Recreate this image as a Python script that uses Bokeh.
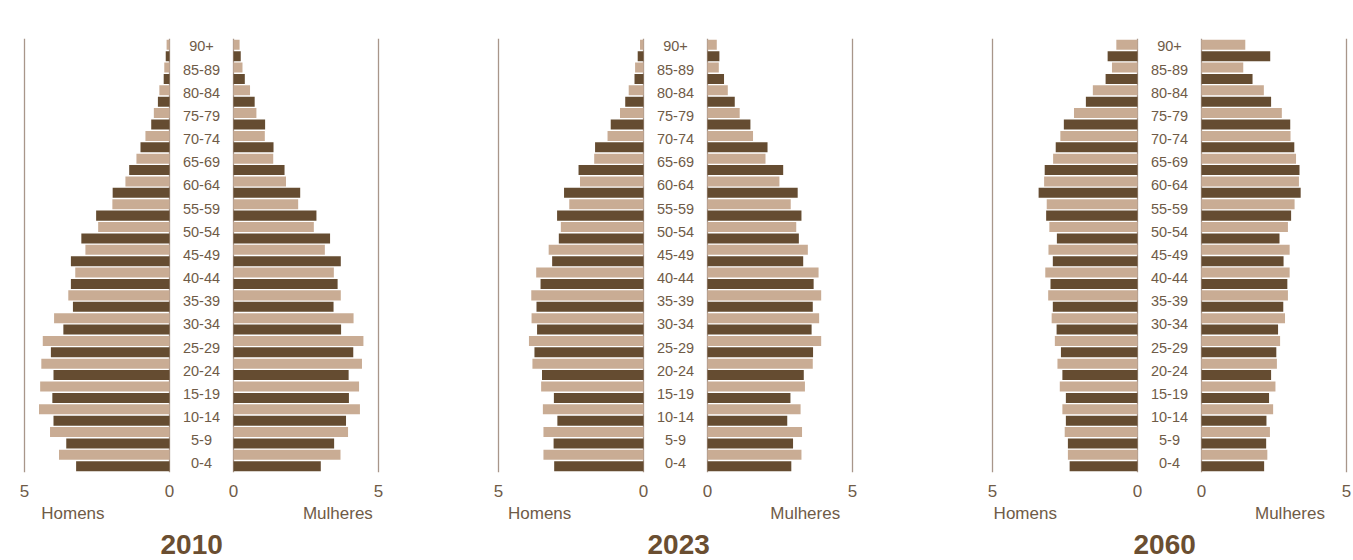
import numpy as np
from bokeh.plotting import figure
from bokeh.models import ColumnDataSource, Range1d, FixedTicker, LinearAxis, Title
from bokeh.layouts import row
from bokeh.embed import file_html
from bokeh.resources import INLINE
from bokeh.core.properties import value

# ---------------- data ----------------
ages = ["0-4", "5-9", "10-14", "15-19", "20-24", "25-29", "30-34", "35-39", "40-44",
        "45-49", "50-54", "55-59", "60-64", "65-69", "70-74", "75-79", "80-84", "85-89", "90+"]
years = ["2010", "2023", "2060"]
scale_ticks = ["5", "0", "0", "5"]
side_names = ["Homens", "Mulheres"]

# each age group has a dark bar (lower) and a light bar (upper), values in %
homens_2010_escuro = [3.22, 3.56, 4.00, 4.04, 4.00, 4.09, 3.66, 3.33, 3.40, 3.40, 3.04, 2.53, 1.96, 1.39, 1.00, 0.63, 0.40, 0.20, 0.13]
homens_2010_claro = [3.81, 4.12, 4.50, 4.46, 4.42, 4.37, 3.98, 3.49, 3.25, 2.90, 2.46, 1.97, 1.52, 1.14, 0.83, 0.54, 0.35, 0.18, 0.10]
mulheres_2010_escuro = [3.01, 3.47, 3.88, 3.98, 3.97, 4.13, 3.71, 3.45, 3.59, 3.70, 3.33, 2.86, 2.30, 1.76, 1.38, 1.09, 0.73, 0.39, 0.25]
mulheres_2010_claro = [3.69, 3.95, 4.36, 4.33, 4.43, 4.48, 4.14, 3.70, 3.46, 3.15, 2.77, 2.23, 1.81, 1.37, 1.08, 0.79, 0.57, 0.31, 0.21]

homens_2023_escuro = [3.08, 3.10, 2.97, 3.09, 3.50, 3.76, 3.67, 3.69, 3.55, 3.15, 2.92, 2.98, 2.74, 2.24, 1.67, 1.13, 0.63, 0.31, 0.20]
homens_2023_claro = [3.45, 3.45, 3.47, 3.53, 3.83, 3.95, 3.86, 3.87, 3.70, 3.27, 2.85, 2.56, 2.19, 1.70, 1.24, 0.81, 0.51, 0.29, 0.12]
mulheres_2023_escuro = [2.89, 2.95, 2.75, 2.86, 3.32, 3.64, 3.59, 3.63, 3.66, 3.30, 3.15, 3.24, 3.11, 2.61, 2.07, 1.48, 0.94, 0.57, 0.41]
mulheres_2023_claro = [3.24, 3.26, 3.21, 3.36, 3.63, 3.92, 3.85, 3.92, 3.83, 3.46, 3.06, 2.87, 2.48, 2.00, 1.57, 1.11, 0.70, 0.39, 0.32]

homens_2060_escuro = [2.34, 2.40, 2.47, 2.47, 2.59, 2.64, 2.79, 2.92, 3.00, 2.92, 2.78, 3.15, 3.41, 3.20, 2.82, 2.54, 1.78, 1.10, 1.03]
homens_2060_claro = [2.40, 2.51, 2.59, 2.68, 2.76, 2.85, 2.96, 3.08, 3.18, 3.07, 3.04, 3.13, 3.22, 2.91, 2.66, 2.19, 1.54, 0.88, 0.73]
mulheres_2060_escuro = [2.16, 2.23, 2.24, 2.33, 2.40, 2.58, 2.64, 2.82, 2.96, 2.83, 2.69, 3.09, 3.42, 3.38, 3.20, 3.06, 2.40, 1.76, 2.37]
mulheres_2060_claro = [2.27, 2.36, 2.47, 2.55, 2.60, 2.71, 2.88, 2.98, 3.04, 3.04, 2.98, 3.21, 3.36, 3.26, 3.07, 2.77, 2.15, 1.44, 1.51]

# ---------------- style ----------------
DARK = "#654c31"
LIGHT = "#c9ac94"
LINE = "#a8968a"
TEXT = "#6f5b47"
TITLE = "#6a4e31"
FONT = "Liberation Sans"

PX_PER_UNIT = 29.0
FRAME_W = 360
GAP = round(32 / PX_PER_UNIT, 6)          # half width of the centre label column (data units)
HALF = round(FRAME_W / 2 / PX_PER_UNIT, 6)
MAXV = 5.0


def pyramid(year, h_dark, h_light, m_dark, m_light, name_pos, title_off, bl, br):
    n = len(ages)
    y_dark = np.arange(n) * 2.0
    y_light = y_dark + 1.0
    h_dark = np.array(h_dark); h_light = np.array(h_light)
    m_dark = np.array(m_dark); m_light = np.array(m_light)

    p = figure(width=bl + FRAME_W + br, height=560,
               x_range=Range1d(-HALF, HALF), y_range=Range1d(-0.55, 2 * n - 1 + 0.55),
               output_backend="svg", toolbar_location=None, y_axis_location=None,
               min_border_left=bl, min_border_right=br, min_border_top=38, min_border_bottom=88)
    p.outline_line_color = None
    p.background_fill_color = "white"
    p.border_fill_color = "white"

    ticks = [-(GAP + MAXV), -GAP, GAP, GAP + MAXV]
    p.xgrid.ticker = FixedTicker(ticks=ticks)
    p.xgrid.grid_line_color = LINE
    p.xgrid.grid_line_width = 1.3
    p.ygrid.visible = False

    bh = 0.88
    p.hbar(y=y_dark, left=-(GAP + h_dark), right=-GAP, height=bh, fill_color=DARK, line_color=None)
    p.hbar(y=y_light, left=-(GAP + h_light), right=-GAP, height=bh, fill_color=LIGHT, line_color=None)
    p.hbar(y=y_dark, left=GAP, right=GAP + m_dark, height=bh, fill_color=DARK, line_color=None)
    p.hbar(y=y_light, left=GAP, right=GAP + m_light, height=bh, fill_color=LIGHT, line_color=None)

    label_y = np.linspace(0.25, 2 * n - 1 - 0.15, n)
    src = ColumnDataSource(dict(x=np.zeros(n), y=label_y, t=ages))
    p.text(x="x", y="y", text="t", source=src, text_align="center", text_baseline="middle",
           text_font=value(FONT), text_font_size="14.5px", text_color=TEXT)

    ax = p.xaxis[0]
    ax.ticker = FixedTicker(ticks=ticks)
    ax.major_label_overrides = {t: s for t, s in zip(ticks, scale_ticks)}
    ax.axis_line_color = None
    ax.major_tick_line_color = None
    ax.minor_tick_line_color = None
    ax.major_label_standoff = 6
    ax.major_label_text_font = FONT
    ax.major_label_text_font_size = "17px"
    ax.major_label_text_color = TEXT

    npos = [-(GAP + name_pos[0]), GAP + name_pos[1]]
    ax2 = LinearAxis(ticker=FixedTicker(ticks=npos),
                     major_label_overrides={t: s for t, s in zip(npos, side_names)},
                     axis_line_color=None, major_tick_line_color=None, minor_tick_line_color=None,
                     major_label_standoff=-2, major_label_text_font=FONT,
                     major_label_text_font_size="17px", major_label_text_color=TEXT)
    p.add_layout(ax2, "below")

    t = Title(text=year, align="left", offset=title_off, standoff=14,
              text_font=FONT, text_font_size="28px", text_font_style="bold", text_color=TITLE)
    p.add_layout(t, "below")
    return p


p1 = pyramid(years[0], homens_2010_escuro, homens_2010_claro, mulheres_2010_escuro, mulheres_2010_claro,
             (3.33, 3.60), 139, 21, 57)
p2 = pyramid(years[1], homens_2023_escuro, homens_2023_claro, mulheres_2023_escuro, mulheres_2023_claro,
             (3.58, 3.37), 152, 57, 67)
p3 = pyramid(years[2], homens_2060_escuro, homens_2060_claro, mulheres_2060_escuro, mulheres_2060_claro,
             (3.87, 3.05), 144, 67, 3)

layout = row(p1, p2, p3, spacing=0)
open("out.html", "w").write(file_html(layout, INLINE))
